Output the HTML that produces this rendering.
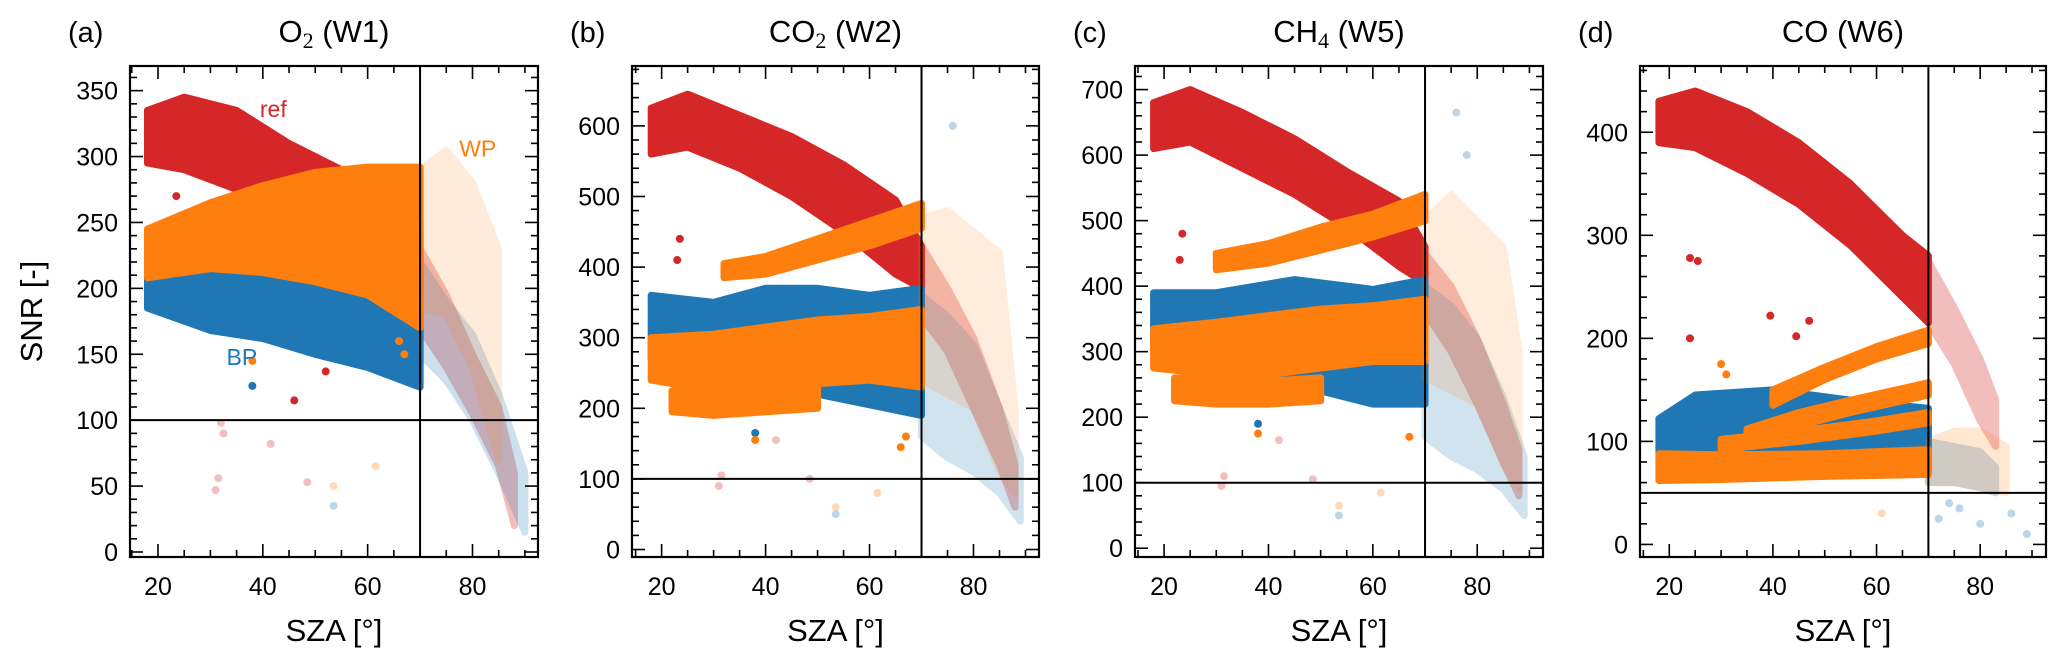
<!DOCTYPE html>
<html><head><meta charset="utf-8">
<style>
html,body{margin:0;padding:0;background:#fff;}
svg{display:block;font-family:"Liberation Sans",sans-serif;}
</style></head>
<body>
<svg id="fig" width="2066" height="667" viewBox="0 0 2066 667" xmlns="http://www.w3.org/2000/svg"></svg>
<script>
// ---------- data ----------
// Panel a: O2 (W1)
const aRefSza=[18,25,35,45,55,65,70];      const aRefLo=[295,290,275,260,235,215,200]; const aRefHi=[335,345,335,310,290,265,250];
const aRefTSza=[70,75,80,85,88];           const aRefTLo=[170,140,105,65,20];         const aRefTHi=[230,195,150,110,60];
const aBpSza=[18,30,40,50,60,70];          const aBpLo=[185,168,162,150,140,125];     const aBpHi=[235,235,240,235,225,225];
const aBpTSza=[70,75,80,85,90];            const aBpTLo=[150,130,100,60,15];          const aBpTHi=[220,190,165,120,60];
const aWpSza=[18,30,40,50,60,70];          const aWpLo=[208,215,212,205,195,170];     const aWpHi=[245,265,278,288,292,292];
const aWpTSza=[70,75,80,85];               const aWpTLo=[185,180,140,70];             const aWpTHi=[290,305,280,230];
const aOutX=[32,32.5,41.5,31.5,31,48.5,52,46,38,38,53.5,61.5,53.5,23.5,66,67];
const aOutY=[98,90,82,56,47,53,137,115,145,126,50,65,35,270,160,150];
const aOutS=['rf','rf','rf','rf','rf','rf','r','r','w','b','wf','wf','bf','r','w','w'];
// Panel b: CO2 (W2)
const bRefSza=[18,25,35,45,55,65,70];      const bRefLo=[560,570,540,500,450,390,370]; const bRefHi=[625,645,615,585,545,495,430];
const bRefTSza=[70,75,80,85,88];           const bRefTLo=[330,280,200,120,60];        const bRefTHi=[430,370,300,200,120];
const bBpSza=[18,30,40,50,60,70];          const bBpLo=[270,240,240,220,205,190];     const bBpHi=[360,350,370,370,360,370];
const bBpTSza=[70,75,80,85,89];            const bBpTLo=[160,130,110,80,40];          const bBpTHi=[360,330,290,200,130];
const bWpSza=[18,30,40,50,60,70];          const bWpLo=[240,225,225,235,240,230];     const bWpHi=[300,305,315,325,330,340];
const bWp2Sza=[32,40,50,60,70];            const bWp2Lo=[385,390,410,430,455];        const bWp2Hi=[405,415,440,465,490];
const bWp3Sza=[22,30,40,50];               const bWp3Lo=[195,190,195,200];            const bWp3Hi=[225,225,225,230];
const bWpTSza=[70,75,80,85,88];            const bWpTLo=[240,220,200,110,80];         const bWpTHi=[470,480,450,420,200];
const bOutX=[31,31.5,42,48.5,38,38,61.5,53.5,53.5,23.5,23,76,67,66];
const bOutY=[90,105,155,100,165,155,80,60,50,440,410,600,160,145];
const bOutS=['rf','rf','rf','rf','b','w','wf','wf','bf','r','r','bf','w','w'];
// Panel c: CH4 (W5)
const cRefSza=[18,25,35,45,55,65,70];      const cRefLo=[610,620,580,540,490,430,405]; const cRefHi=[680,700,665,625,575,530,460];
const cRefTSza=[70,75,80,85,88];           const cRefTLo=[360,300,220,130,80];        const cRefTHi=[450,400,320,220,150];
const cBpSza=[18,30,45,60,70];             const cBpLo=[300,270,250,220,220];         const cBpHi=[390,390,410,395,410];
const cBpTSza=[70,75,80,85,89];            const cBpTLo=[170,140,120,90,50];          const cBpTHi=[400,370,320,230,140];
const cWpSza=[18,30,40,50,60,70];          const cWpLo=[275,265,265,275,285,285];     const cWpHi=[335,345,355,365,370,380];
const cWp2Sza=[30,40,50,60,70];            const cWp2Lo=[425,435,455,475,500];        const cWp2Hi=[450,465,490,510,540];
const cWp3Sza=[22,30,40,50];               const cWp3Lo=[225,220,220,225];            const cWp3Hi=[260,260,255,260];
const cWpTSza=[70,75,80,85,88];            const cWpTLo=[260,240,220,130,90];         const cWpTHi=[500,540,500,460,300];
const cOutX=[31,31.5,42,48.5,38,38,61.5,53.5,53.5,23.5,23,76,78,67];
const cOutY=[95,110,165,105,190,175,85,65,50,480,440,665,600,170];
const cOutS=['rf','rf','rf','rf','b','w','wf','wf','bf','r','r','bf','bf','w'];
// Panel d: CO (W6)
const dRefSza=[18,25,35,45,55,65,70];      const dRefLo=[390,385,360,330,290,240,215]; const dRefHi=[430,440,420,390,350,300,280];
const dRefTSza=[70,75,80,83];              const dRefTLo=[215,175,120,95];            const dRefTHi=[275,230,180,140];
const dBpSza=[18,25,40,55,70];             const dBpLo=[90,88,85,80,70];              const dBpHi=[122,145,150,140,132];
const dBpTSza=[70,75,80,83];               const dBpTLo=[60,60,55,50];                const dBpTHi=[100,95,90,75];
const dWpSza=[18,30,50,70];                const dWpLo=[62,63,66,68];                 const dWpHi=[88,87,88,92];
const dWp2Sza=[40,50,60,70];               const dWp2Lo=[135,160,180,195];            const dWp2Hi=[150,172,192,208];
const dWp3Sza=[35,45,55,70];               const dWp3Lo=[100,115,128,145];            const dWp3Hi=[112,128,140,157];
const dWp4Sza=[30,45,60,70];               const dWp4Lo=[92,100,110,118];             const dWp4Hi=[102,110,120,128];
const dWpTSza=[70,75,80,85];               const dWpTLo=[60,60,55,50];                const dWpTHi=[100,110,110,95];
const dOutX=[24,25.5,39.5,44.5,47,24,30,31,61,72,74,76,80,86,89];
const dOutY=[278,275,222,202,217,200,175,165,30,25,40,35,20,30,10];
const dOutS=['r','r','r','r','r','r','w','w','wf','bf','bf','bf','bf','bf','bf'];

// ---------- layout ----------
const COLORS={r:'#d62728',b:'#1f77b4',w:'#ff7f0e'};
const panels=[
 {id:'a',letter:'(a)',title:['O','2',' (W1)'],L:130,R:538,T:66,B:557,x0:14.66,x1:92.5,y0:-3.8,y1:368.7,major:50,minor:10,hline:100,
  bands:[['r',aRefSza,aRefLo,aRefHi,1],['r',aRefTSza,aRefTLo,aRefTHi,0.3],['b',aBpSza,aBpLo,aBpHi,1],['b',aBpTSza,aBpTLo,aBpTHi,0.22],['w',aWpSza,aWpLo,aWpHi,1],['w',aWpTSza,aWpTLo,aWpTHi,0.15]],
  out:[aOutX,aOutY,aOutS],ylabel:true},
 {id:'b',letter:'(b)',title:['CO','2',' (W2)'],L:632,R:1039,T:66,B:557,x0:14.3,x1:92.6,y0:-10.6,y1:684.8,major:100,minor:20,hline:100,
  bands:[['r',bRefSza,bRefLo,bRefHi,1],['r',bRefTSza,bRefTLo,bRefTHi,0.3],['b',bBpSza,bBpLo,bBpHi,1],['b',bBpTSza,bBpTLo,bBpTHi,0.2],['w',bWpSza,bWpLo,bWpHi,1],['w',bWp2Sza,bWp2Lo,bWp2Hi,1],['w',bWp3Sza,bWp3Lo,bWp3Hi,1],['w',bWpTSza,bWpTLo,bWpTHi,0.14]],
  out:[bOutX,bOutY,bOutS]},
 {id:'c',letter:'(c)',title:['CH','4',' (W5)'],L:1135,R:1543,T:66,B:557,x0:14.43,x1:92.6,y0:-13.4,y1:736,major:100,minor:20,hline:100,
  bands:[['r',cRefSza,cRefLo,cRefHi,1],['r',cRefTSza,cRefTLo,cRefTHi,0.3],['b',cBpSza,cBpLo,cBpHi,1],['b',cBpTSza,cBpTLo,cBpTHi,0.2],['w',cWpSza,cWpLo,cWpHi,1],['w',cWp2Sza,cWp2Lo,cWp2Hi,1],['w',cWp3Sza,cWp3Lo,cWp3Hi,1],['w',cWpTSza,cWpTLo,cWpTHi,0.14]],
  out:[cOutX,cOutY,cOutS]},
 {id:'d',letter:'(d)',title:['CO','',' (W6)'],L:1640,R:2046,T:66,B:557,x0:14.35,x1:92.7,y0:-12.2,y1:464.3,major:100,minor:20,hline:50,
  bands:[['r',dRefSza,dRefLo,dRefHi,1],['r',dRefTSza,dRefTLo,dRefTHi,0.3],['b',dBpSza,dBpLo,dBpHi,1],['b',dBpTSza,dBpTLo,dBpTHi,0.25],['w',dWpSza,dWpLo,dWpHi,1],['w',dWp2Sza,dWp2Lo,dWp2Hi,1],['w',dWp3Sza,dWp3Lo,dWp3Hi,1],['w',dWp4Sza,dWp4Lo,dWp4Hi,1],['w',dWpTSza,dWpTLo,dWpTHi,0.18]],
  out:[dOutX,dOutY,dOutS]}
];
const NS='http://www.w3.org/2000/svg';
const svg=document.getElementById('fig');
function mk(tag,attrs,parent){const e=document.createElementNS(NS,tag);for(const k in attrs)e.setAttribute(k,attrs[k]);(parent||svg).appendChild(e);return e;}
const names={r:'ref',b:'bp',w:'wp'};
panels.forEach(p=>{
  const sx=v=>p.L+(v-p.x0)/(p.x1-p.x0)*(p.R-p.L);
  const sy=v=>p.B-(v-p.y0)/(p.y1-p.y0)*(p.B-p.T);
  const g=mk('g',{});
  
  
  const cp=mk('clipPath',{id:'clip'+p.id},g);mk('rect',{x:p.L,y:p.T,width:p.R-p.L,height:p.B-p.T},cp);
  const plot=mk('g',{'clip-path':'url(#clip'+p.id+')'},g);
  p.bands.forEach((bd,i)=>{
    const [s,xs,lo,hi,op]=bd;
    let pts=[];
    for(let k=0;k<xs.length;k++)pts.push(sx(xs[k]).toFixed(1)+','+sy(hi[k]).toFixed(1));
    for(let k=xs.length-1;k>=0;k--)pts.push(sx(xs[k]).toFixed(1)+','+sy(lo[k]).toFixed(1));
    const wrap=mk('g',{opacity:op},plot);
    const pg=mk('polygon',{points:pts.join(' '),fill:COLORS[s],stroke:COLORS[s],'stroke-width':7,'stroke-linejoin':'round'},wrap);
    
    
  });
  const [ox,oy,os]=p.out;
  for(let k=0;k<ox.length;k++){
    const s=os[k][0],faint=os[k].length>1;
    const c=mk('circle',{cx:sx(ox[k]),cy:sy(oy[k]),r:4,fill:COLORS[s],'fill-opacity':faint?0.3:1},plot);
    
    
  }
  const vl=mk('line',{x1:sx(70),x2:sx(70),y1:p.T,y2:p.B,stroke:'#000','stroke-width':2},g);
  
  
  const hl=mk('line',{x1:p.L,x2:p.R,y1:sy(p.hline),y2:sy(p.hline),stroke:'#000','stroke-width':2},g);
  
  
  const tk=mk('g',{stroke:'#000','stroke-width':1.6},g);
  
  
  for(let v=15;v<=p.x1;v+=5){const X=sx(v);const len=(v%20===0)?13:7;
    mk('line',{x1:X,x2:X,y1:p.B,y2:p.B-len},tk);mk('line',{x1:X,x2:X,y1:p.T,y2:p.T+len},tk);}
  for(let v=0;v<=p.y1;v+=p.minor){const Y=sy(v);const len=(v%p.major===0)?13:7;
    mk('line',{x1:p.L,x2:p.L+len,y1:Y,y2:Y},tk);mk('line',{x1:p.R,x2:p.R-len,y1:Y,y2:Y},tk);}
  const fr=mk('rect',{x:p.L,y:p.T,width:p.R-p.L,height:p.B-p.T,fill:'none',stroke:'#000','stroke-width':2.2},g);
  
  
  [20,40,60,80].forEach(v=>{const t=mk('text',{x:sx(v),y:595,'font-size':25,'text-anchor':'middle'},g);t.textContent=v;
    });
  for(let v=0;v<=p.y1;v+=p.major){const t=mk('text',{x:p.L-12,y:sy(v)+9,'font-size':25,'text-anchor':'end'},g);t.textContent=v;
    }
  const xl=mk('text',{x:(p.L+p.R)/2,y:641,'font-size':31,'text-anchor':'middle'},g);xl.textContent='SZA [°]';
  
  const lt=mk('text',{x:p.L-62,y:42,'font-size':29},g);lt.textContent=p.letter;
  
  const tt=mk('text',{x:(p.L+p.R)/2,y:42,'font-size':31,'text-anchor':'middle'},g);
  
  const t1=mk('tspan',{},tt);t1.textContent=p.title[0];
  if(p.title[1]){const t2=mk('tspan',{'font-family':'Liberation Serif, serif','font-size':22,dy:6},tt);t2.textContent=p.title[1];
    const t3=mk('tspan',{dy:-6},tt);t3.textContent=p.title[2];}
  else{const t3=mk('tspan',{},tt);t3.textContent=p.title[2];}
  if(p.ylabel){
    const yl=mk('text',{x:42,y:(p.T+p.B)/2,'font-size':31,'text-anchor':'middle',transform:'rotate(-90 42 '+((p.T+p.B)/2)+')'},g);yl.textContent='SNR [-]';
    
    [['ref','r',42,330],['WP','w',81,300],['BP','b',36,142]].forEach(a=>{
      const t=mk('text',{x:sx(a[2]),y:sy(a[3]),'font-size':23,fill:COLORS[a[1]],'text-anchor':'middle'},g);t.textContent=a[0];
      
    });
  }
});
</script>
</body></html>
